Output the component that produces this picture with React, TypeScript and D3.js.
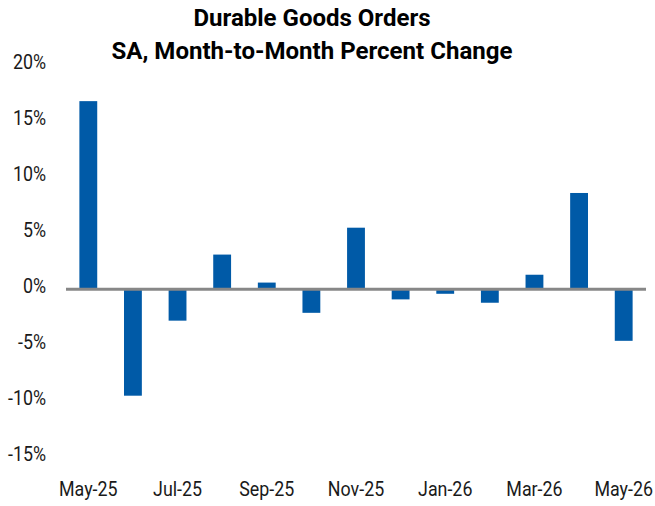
import React, { useEffect, useRef } from "react";
import * as d3 from "d3";

const months = [
  "May-25", "Jun-25", "Jul-25", "Aug-25", "Sep-25", "Oct-25", "Nov-25",
  "Dec-25", "Jan-26", "Feb-26", "Mar-26", "Apr-26", "May-26",
];
const pctChange = [16.8, -9.5, -2.8, 3.1, 0.6, -2.1, 5.5, -0.9, -0.4, -1.2, 1.3, 8.6, -4.6];
const yTicks = [20, 15, 10, 5, 0, -5, -10, -15];
const xLabels = ["May-25", "Jul-25", "Sep-25", "Nov-25", "Jan-26", "Mar-26", "May-26"];
const titleLines = ["Durable Goods Orders", "SA, Month-to-Month Percent Change"];

const width = 655;
const height = 506;
// Roboto is a bit wide compared to the condensed face in the original
const squeeze = 0.87;

export default function App() {
  const ref = useRef<SVGSVGElement>(null);

  useEffect(() => {
    const svg = d3.select(ref.current);
    svg.selectAll("*").remove();

    const x = d3.scaleBand<string>()
      .domain(months)
      .range([66, 646])
      .paddingInner(0.6)
      .paddingOuter(0.3);

    const y = d3.scaleLinear().domain([-15, 20]).range([457.3, 65.3]);

    // title
    const titleG = svg.append("g");
    titleG.append("text")
      .attr("x", 312).attr("y", 26)
      .attr("text-anchor", "middle")
      .attr("font-family", "Roboto")
      .attr("font-weight", "bold")
      .attr("font-size", 24)
      .attr("textLength", 237)
      .attr("lengthAdjust", "spacingAndGlyphs")
      .text(titleLines[0]);
    titleG.append("text")
      .attr("x", 312).attr("y", 59)
      .attr("text-anchor", "middle")
      .attr("font-family", "Roboto")
      .attr("font-weight", "bold")
      .attr("font-size", 24)
      .attr("textLength", 401)
      .attr("lengthAdjust", "spacingAndGlyphs")
      .text(titleLines[1]);

    // y axis labels
    svg.append("g")
      .selectAll("text")
      .data(yTicks)
      .enter()
      .append("text")
      .attr("transform", (d) => `translate(46,${y(d) + 3.4}) scale(${squeeze},1)`)
      .attr("text-anchor", "end")
      .attr("font-family", "Roboto")
      .attr("font-size", 20.5)
      .attr("fill", "#1a1a1a")
      .text((d) => d + "%");

    // bars
    svg.append("g")
      .selectAll("rect")
      .data(pctChange)
      .enter()
      .append("rect")
      .attr("x", (d, i) => x(months[i])!)
      .attr("width", x.bandwidth())
      .attr("y", (d) => y(Math.max(0, d)))
      .attr("height", (d) => Math.abs(y(d) - y(0)))
      .attr("fill", "#005aa7");

    // zero line
    svg.append("line")
      .attr("x1", 66).attr("x2", 646)
      .attr("y1", y(0)).attr("y2", y(0))
      .attr("stroke", "#878787")
      .attr("stroke-width", 3);

    // x labels, every other month
    svg.append("g")
      .selectAll("text")
      .data(xLabels)
      .enter()
      .append("text")
      .attr("transform", (d) => `translate(${x(d)! + x.bandwidth() / 2},496) scale(${squeeze},1)`)
      .attr("text-anchor", "middle")
      .attr("font-family", "Roboto")
      .attr("font-size", 20.5)
      .attr("fill", "#1a1a1a")
      .text((d) => d);
  }, []);

  return (
    <svg
      ref={ref}
      width={width}
      height={height}
      style={{ position: "absolute", left: 0, top: 0, background: "#fff" }}
    />
  );
}
